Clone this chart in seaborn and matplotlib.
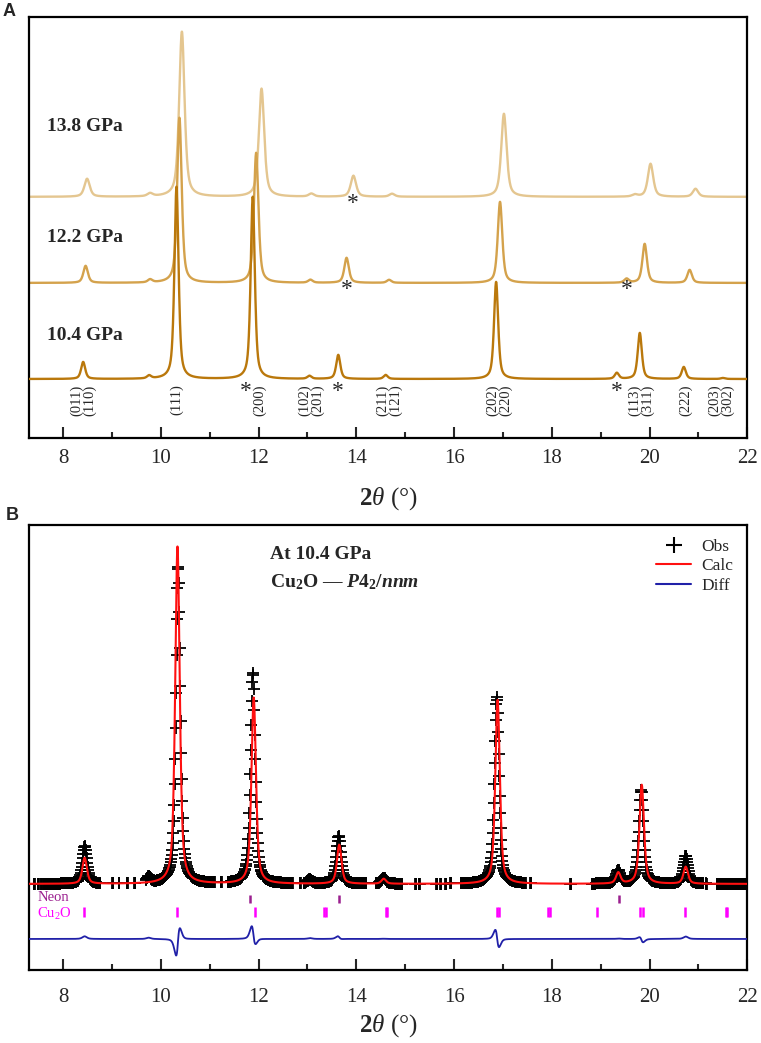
import numpy as np
import matplotlib
matplotlib.use("Agg")
import matplotlib.pyplot as plt
from matplotlib.lines import Line2D
import seaborn as sns

sns.set_style("white")
plt.rcParams['font.family'] = ['Liberation Serif', 'DejaVu Serif']
plt.rcParams['mathtext.fontset'] = 'custom'
plt.rcParams['mathtext.rm'] = 'Liberation Serif'
plt.rcParams['mathtext.it'] = 'Liberation Serif:italic'
plt.rcParams['mathtext.bf'] = 'Liberation Serif:bold'
plt.rcParams['mathtext.bfit'] = 'Liberation Serif:bold:italic'

# ---------------- panel A : stacked patterns ----------------
pressures = ["10.4 GPa", "12.2 GPa", "13.8 GPa"]
offsets_a = [59, 155, 241]
colors_a = ["#BA780C", "#D4A24C", "#E4C690"]
fwhm_a = [0.10, 0.11, 0.13]

pos_104 = [8.41, 9.76, 10.32, 11.88, 13.04, 13.63, 14.60, 16.86, 19.33, 19.80, 20.70, 21.50]
hgt_104 = [17, 3, 192, 182, 3, 24, 4, 97, 6, 46, 12, 1]
pos_122 = [8.46, 9.78, 10.38, 11.95, 13.06, 13.80, 14.67, 16.94, 19.53, 19.90, 20.82]
hgt_122 = [17, 3, 165, 130, 3, 25, 3, 81, 4, 39, 13]
pos_138 = [8.49, 9.78, 10.43, 12.06, 13.08, 13.94, 14.73, 17.02, 19.70, 20.02, 20.94]
hgt_138 = [18, 3, 165, 108, 3, 21, 3, 83, 2, 33, 8]
peak_sets = [(pos_104, hgt_104), (pos_122, hgt_122), (pos_138, hgt_138)]

label_y_a = [102, 200, 311]

star_x = [13.92, 13.80, 19.53, 11.74, 13.63, 19.33]
star_y = [234, 148, 148, 47, 47, 47]

hkl_x = [8.40, 10.33, 12.02, 13.08, 14.67, 16.92, 19.82, 20.73, 21.47]
hkl_text = ["(011)\n(110)", "(111)", "(200)", "(102)\n(201)", "(211)\n(121)",
            "(202)\n(220)", "(113)\n(311)", "(222)", "(203)\n(302)"]

# ---------------- panel B : refinement ----------------
calc_pos = [8.44, 10.34, 11.90, 13.65, 14.56, 16.89, 19.36, 19.84, 20.74]
calc_hgt = [26, 337, 186, 39, 5, 184, 11, 99, 17]
obs_pos = [8.44, 9.75, 10.356, 11.883, 13.05, 13.64, 14.56, 16.872, 19.36, 19.83, 20.74]
obs_hgt = [38, 6, 318, 211, 4, 48, 6, 187, 13, 94, 28]
obs_ranges = [(7.40, 7.42), (7.48, 7.50), (7.54, 7.56), (7.59, 8.76), (9.01, 9.03),
              (9.14, 9.15), (9.30, 9.32), (9.46, 9.48), (9.69, 11.10), (11.23, 11.25),
              (11.37, 12.70), (12.84, 12.86), (12.92, 12.94), (12.98, 14.20), (14.40, 14.94),
              (15.21, 15.23), (15.28, 15.30), (15.64, 15.66), (15.72, 15.74), (15.82, 15.84),
              (15.92, 15.94), (16.14, 17.47), (17.56, 17.58), (18.38, 18.40), (18.82, 21.10),
              (21.15, 21.17), (21.37, 22.00)]
base_calc = 86
base_diff = 31
diff_scale = 0.22
fwhm_b = 0.11

neon_pos = [11.82, 13.65, 19.37]
cu2o_pos = [8.43, 10.33, 11.92, 13.34, 13.37, 14.60, 14.63, 16.88, 16.91, 17.93, 17.96,
            18.92, 19.81, 19.87, 20.73, 21.56, 21.59]


def profile(x, pos, hgt, w, eta=0.6):
    y = np.zeros_like(x)
    for p, h in zip(pos, hgt):
        u = (x - p) / w
        y += h * (eta / (1 + 4 * u ** 2) + (1 - eta) * np.exp(-4 * np.log(2) * u ** 2))
    return y


def style_axis(ax, ylim, pad):
    ax.set_xlim(7.3, 22)
    ax.set_ylim(*ylim)
    ax.set_yticks([])
    ax.set_xticks([8, 10, 12, 14, 16, 18, 20, 22])
    ax.set_xticks([9, 11, 13, 15, 17, 19, 21], minor=True)
    ax.tick_params(axis='x', which='major', direction='in', length=8, width=1.5,
                   labelsize=15, pad=pad, bottom=True, top=False)
    ax.tick_params(axis='x', which='minor', direction='in', length=4, width=1.5,
                   bottom=True, top=False)
    for s in ax.spines.values():
        s.set_visible(True)
        s.set_linewidth(1.6)
        s.set_color('black')
    ax.set_ylabel("")


fig = plt.figure(figsize=(7.61, 10.43), dpi=100)
axA = fig.add_axes([0.038, 0.580, 0.944, 0.404])
axB = fig.add_axes([0.038, 0.070, 0.944, 0.427])

tt = np.arange(7.3, 22.0001, 0.004)

# panel A
for i in [2, 1, 0]:
    pos, hgt = peak_sets[i]
    yy = offsets_a[i] + profile(tt, pos, hgt, fwhm_a[i])
    sns.lineplot(x=tt, y=yy, ax=axA, color=colors_a[i], linewidth=1.7, zorder=3 - i)
    axA.text(7.67, label_y_a[i], pressures[i], fontsize=14, fontweight='bold',
             ha='left', va='center')

for x, y in zip(star_x, star_y):
    axA.text(x, y, "*", fontsize=17, ha='center', va='center')

for x, t in zip(hkl_x, hkl_text):
    axA.text(x, 38, t, fontsize=10.5, rotation=90, ha='center', va='center',
             multialignment='center', linespacing=0.95)

style_axis(axA, (0, 421), 8)
axA.set_xlabel(r"$\mathbf{2}\mathit{\theta}$ (°)", fontsize=18, labelpad=12)

# panel B
calc_y = base_calc + profile(tt, calc_pos, calc_hgt, fwhm_b)
obs_full = base_calc + profile(tt, obs_pos, obs_hgt, fwhm_b)
diff_y = base_diff + diff_scale * (obs_full - calc_y)

ox = np.concatenate([np.arange(a, b + 1e-9, 0.01) for a, b in obs_ranges])
oy = base_calc + profile(ox, obs_pos, obs_hgt, fwhm_b)

axB.plot(ox, oy, ls='none', marker='+', ms=9, mew=1.3, color='black', zorder=2)
sns.lineplot(x=tt, y=calc_y, ax=axB, color='#FF1010', linewidth=1.5, zorder=3)
sns.lineplot(x=tt, y=diff_y, ax=axB, color='#2020A8', linewidth=1.3, zorder=3)

axB.vlines(neon_pos, 67, 75, color='#9B1F8F', linewidth=1.8)
axB.vlines(cu2o_pos, 53, 63, color='#FF00FF', linewidth=1.8)
axB.text(7.47, 72.5, "Neon", color='#9B1F8F', fontsize=10.5, ha='left', va='center')
axB.text(7.47, 56, "Cu$_2$O", color='#FF00FF', fontsize=10.5, ha='left', va='center')

axB.text(12.23, 415, "At 10.4 GPa", fontsize=14, fontweight='bold', ha='left', va='center')
axB.text(12.23, 388, r"Cu$_\mathbf{2}$O — $\mathbfit{P}\mathbf{4}_\mathbf{2}\mathbf{/}\mathbfit{nnm}$",
         fontsize=14, fontweight='bold', ha='left', va='center')

handles = [Line2D([], [], marker='+', ls='none', color='black', ms=11, mew=1.5),
           Line2D([], [], color='#FF1010', lw=1.5),
           Line2D([], [], color='#2020A8', lw=1.5)]
axB.legend(handles, ["Obs", "Calc", "Diff"], loc='upper right', frameon=False,
           fontsize=12.5, handlelength=2.0, handletextpad=0.6, labelspacing=0.2,
           borderaxespad=0.4, bbox_to_anchor=(1.0, 1.0))

style_axis(axB, (0, 445), 13)
axB.set_xlabel(r"$\mathbf{2}\mathit{\theta}$ (°)", fontsize=18, labelpad=4)

fig.text(3 / 761, 1 - 11.5 / 1043, "A", fontsize=13, fontweight='bold',
         family='Liberation Sans', ha='left', va='center')
fig.text(6 / 761, 1 - 515 / 1043, "B", fontsize=13, fontweight='bold',
         family='Liberation Sans', ha='left', va='center')

fig.savefig("out.png", dpi=100)
